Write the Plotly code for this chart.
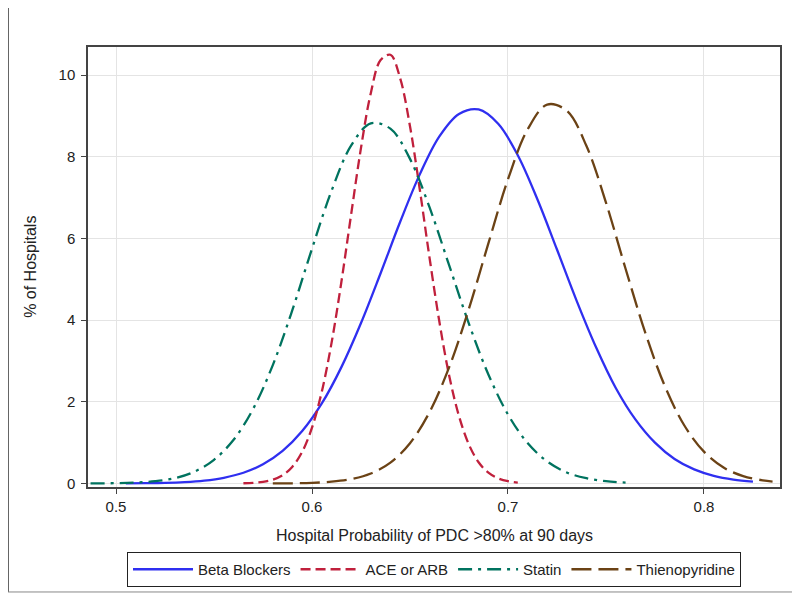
import plotly.graph_objects as go

# ---- data ----
bb_x = [0.505, 0.515, 0.525, 0.535, 0.545, 0.555, 0.565, 0.575, 0.585, 0.595,
        0.605, 0.615, 0.625, 0.635, 0.645, 0.655, 0.665, 0.675, 0.685, 0.695,
        0.705, 0.715, 0.725, 0.735, 0.745, 0.755, 0.765, 0.775, 0.785, 0.795,
        0.805, 0.815, 0.825]
bb_y = [0.003, 0.007, 0.015, 0.034, 0.071, 0.14, 0.263, 0.469, 0.796, 1.283,
        1.96, 2.85, 3.93, 5.15, 6.41, 7.57, 8.50, 9.05, 9.16, 8.81,
        8.04, 6.96, 5.73, 4.48, 3.33, 2.34, 1.57, 1.00, 0.60, 0.345,
        0.188, 0.097, 0.048]

ace_x = [0.565, 0.570, 0.575, 0.580, 0.585, 0.590, 0.595, 0.600, 0.605, 0.610,
         0.615, 0.620, 0.625, 0.630, 0.635, 0.640, 0.645, 0.650, 0.655, 0.660,
         0.665, 0.670, 0.675, 0.680, 0.685, 0.690, 0.695, 0.700, 0.705]
ace_y = [0.006, 0.016, 0.040, 0.094, 0.203, 0.411, 0.776, 1.368, 2.25, 3.45,
         4.94, 6.60, 8.22, 9.56, 10.37, 10.50, 9.92, 8.75, 7.20, 5.52,
         3.96, 2.64, 1.65, 0.96, 0.52, 0.264, 0.125, 0.055, 0.023]

statin_x = [0.487, 0.50, 0.51, 0.52, 0.53, 0.54, 0.55, 0.56, 0.57, 0.58, 0.59,
            0.60, 0.61, 0.62, 0.63, 0.64, 0.65, 0.66, 0.67, 0.68, 0.69,
            0.70, 0.71, 0.72, 0.73, 0.74, 0.75, 0.76]
statin_y = [0.003, 0.008, 0.022, 0.056, 0.13, 0.29, 0.58, 1.07, 1.83, 2.90, 4.25,
            5.75, 7.17, 8.28, 8.82, 8.69, 7.95, 6.76, 5.34, 3.92, 2.67,
            1.69, 0.99, 0.54, 0.27, 0.13, 0.057, 0.023]

thieno_x = [0.58, 0.59, 0.60, 0.61, 0.62, 0.63, 0.64, 0.65, 0.66, 0.67,
            0.68, 0.69, 0.70, 0.71, 0.72, 0.73, 0.74, 0.75, 0.76, 0.77,
            0.78, 0.79, 0.80, 0.81, 0.82, 0.83, 0.835]
thieno_y = [0.002, 0.005, 0.016, 0.043, 0.107, 0.244, 0.512, 0.987, 1.75, 2.85,
            4.27, 5.88, 7.45, 8.67, 9.28, 9.13, 8.27, 6.88, 5.26, 3.70,
            2.39, 1.42, 0.78, 0.39, 0.18, 0.077, 0.048]

x_ticks = [0.5, 0.6, 0.7, 0.8]
y_ticks = [0, 2, 4, 6, 8, 10]

x_title = "Hospital Probability of PDC >80% at 90 days"
y_title = "% of Hospitals"

FONT = "Liberation Sans, Arial, sans-serif"
TXT = "#222222"

fig = go.Figure()
fig.add_trace(go.Scatter(x=bb_x, y=bb_y, mode="lines", name="Beta Blockers",
                         line=dict(color="#2f2ff0", width=2.3, shape="spline")))
fig.add_trace(go.Scatter(x=ace_x, y=ace_y, mode="lines", name="ACE or ARB",
                         line=dict(color="#c0203c", width=2.3, shape="spline", dash="10px,5px")))
fig.add_trace(go.Scatter(x=statin_x, y=statin_y, mode="lines", name="Statin",
                         line=dict(color="#00735f", width=2.3, shape="spline", dash="14px,6px,3px,6px")))
fig.add_trace(go.Scatter(x=thieno_x, y=thieno_y, mode="lines", name="Thienopyridine",
                         line=dict(color="#6b4215", width=2.3, shape="spline", dash="20px,7px")))

axis_common = dict(
    showline=True, linecolor="#444444", linewidth=1.5, mirror=True,
    showgrid=True, gridcolor="#e4e4e4", gridwidth=1,
    ticks="outside", ticklen=5, tickcolor="#444444", tickwidth=1,
    zeroline=False, automargin=False,
    tickfont=dict(family=FONT, size=15, color=TXT),
)

# page body has an 8px default margin, so the figure is drawn 8px in/down
fig.update_layout(
    width=792, height=593,
    margin=dict(l=80, r=20, t=39, b=114),
    paper_bgcolor="white", plot_bgcolor="white",
    font=dict(family=FONT, size=15, color=TXT),
    xaxis=dict(range=[0.4857, 0.8388], tickvals=x_ticks,
               ticktext=[str(v) for v in x_ticks], **axis_common),
    yaxis=dict(range=[-0.086, 10.69], tickvals=y_ticks,
               ticktext=[str(v) for v in y_ticks], ticklabelstandoff=3, **axis_common),
    legend=dict(orientation="h", x=0.5, xanchor="center", y=-0.1875, yanchor="middle",
                bordercolor="#222222", borderwidth=1, bgcolor="white",
                font=dict(family=FONT, size=15, color=TXT),
                itemwidth=60, tracegroupgap=0),
    showlegend=True,
)

# axis titles as annotations (exact placement)
fig.add_annotation(text=x_title, xref="paper", yref="paper", x=0.5, y=-0.111,
                   xanchor="center", yanchor="middle", showarrow=False,
                   font=dict(family=FONT, size=16, color=TXT))
fig.add_annotation(text=y_title, xref="paper", yref="paper", x=-0.084, y=0.5,
                   xanchor="center", yanchor="middle", showarrow=False, textangle=-90,
                   font=dict(family=FONT, size=16, color=TXT))

# outer frame remnants (left and bottom lines)
fig.add_shape(type="line", xref="paper", yref="paper",
              x0=-0.1156, x1=-0.1156, y0=1.107, y1=-0.2386,
              line=dict(color="#333333", width=1.5))
fig.add_shape(type="line", xref="paper", yref="paper",
              x0=-0.1156, x1=1.0173, y0=-0.2386, y1=-0.2386,
              line=dict(color="#888888", width=1))

fig.write_html("out.html")
